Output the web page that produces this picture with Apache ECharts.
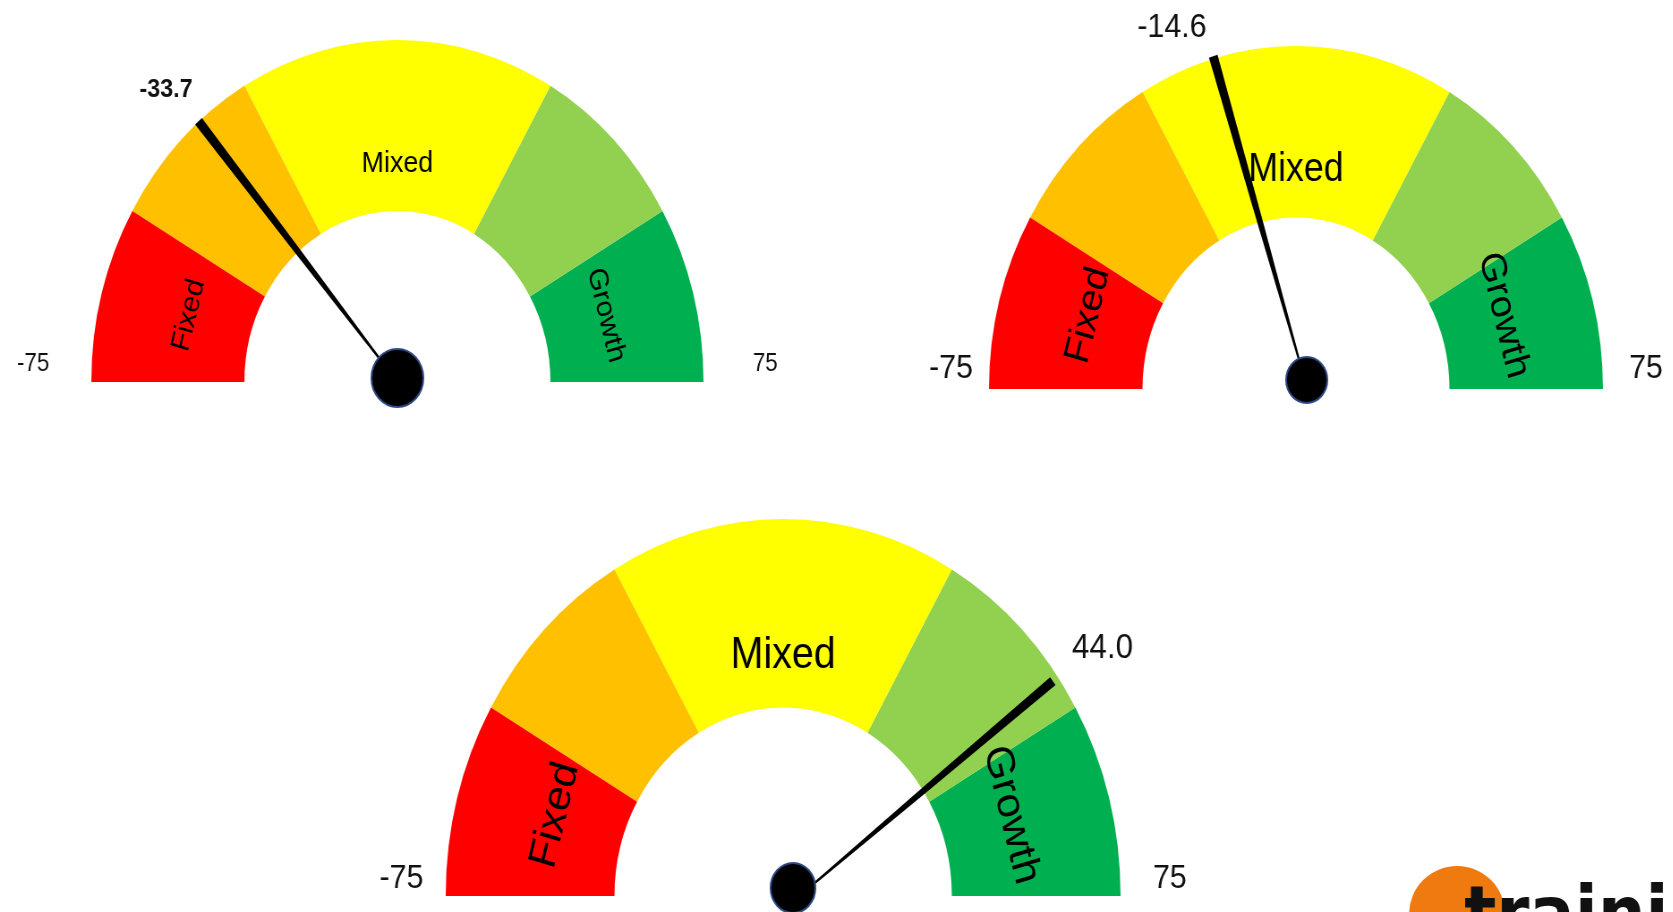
<!DOCTYPE html>
<html>
<head>
<meta charset="utf-8">
<title>Gauges</title>
<script src="https://cdn.jsdelivr.net/npm/echarts@6/dist/echarts.min.js"></script>
<style>
  html, body { margin: 0; padding: 0; background: #fff; overflow: hidden; width: 1673px; height: 912px; }
  /* dials are drawn round and then squeezed horizontally to the wide-oval look */
  #chart { width: 1869px; height: 912px; transform: scaleX(0.895); transform-origin: 0 0; }
</style>
</head>
<body>
<div id="chart"></div>
<script>
// Scale of every dial
const scaleMin = -75;
const scaleMax = 75;
const tickLabels = ['-75', '75'];

// Colour bands: edges, colours and names
const bandEdges = [-75, -50, -25, 25, 50, 75];
const bandColors = ['#FF0000', '#FFC000', '#FFFF00', '#92D050', '#00B050'];
const bandNames = ['Fixed', '', 'Mixed', '', 'Growth'];

// Reading of each dial
const gaugeValues = [-33.7, -14.6, 44.0];

const FONT = '"Liberation Sans", Arial, Helvetica, sans-serif';

// Layout of each dial
const dials = [
  { cx: 444, cy: 382, r: 342, hub: 58, hubOff: [0, -4], needleLen: 0.99, tickFont: 25, tickDist: -83, tickLift: 18,
    valueFont: 26, valueWeight: 'bold', valueNudge: [5, 0], bandFont: 30, bandPad: 1 },
  { cx: 1448, cy: 389, r: 343, hub: 46, hubOff: [12, -9], needleLen: 0.98, tickFont: 34, tickDist: -67, tickLift: 20,
    valueFont: 34, valueWeight: 'normal', valueNudge: [-4, 5], bandFont: 40, bandPad: 2 },
  { cx: 875, cy: 896, r: 377, hub: 50, hubOff: [11, -8], needleLen: 0.96, tickFont: 34, tickDist: -74, tickLift: 17,
    valueFont: 35, valueWeight: 'normal', valueNudge: [6, 9], bandFont: 44, bandPad: 2 }
];

const span = scaleMax - scaleMin;
const colorStops = bandColors.map((c, i) => [(bandEdges[i + 1] - scaleMin) / span, c]);

const measureCtx = document.createElement('canvas').getContext('2d');
function textWidth(text, size, weight) {
  measureCtx.font = weight + ' ' + size + 'px ' + FONT;
  return measureCtx.measureText(text).width;
}

// Value label sits just beyond the needle tip, on the outer side
function valueLabelOffset(v, d) {
  const theta = Math.PI * (1 - (v - scaleMin) / span);
  const c = Math.cos(theta), s = Math.sin(theta);
  const len = d.r * d.needleLen;
  const tipX = d.hubOff[0] + c * len;
  const tipY = d.hubOff[1] - s * len;
  const w = textWidth(v.toFixed(1), d.valueFont, d.valueWeight);
  const sgn = c < 0 ? -1 : 1;
  return [tipX + c * 22 + sgn * w / 2 + d.valueNudge[0],
          tipY - s * 22 - 4 - 0.36 * d.valueFont + d.valueNudge[1]];
}

// Band names sit a little nearer the hub than the middle of their band
const bandLabelShift = { Mixed: 0.12, Fixed: 0.05, Growth: 0.05 };

function bandFormatter(name, d) {
  const pad = '\u00a0'.repeat(d.bandPad);
  if (name === 'Fixed') return '\u00a0\n' + pad + '{b}';
  if (name === 'Growth') return '\u00a0\n{b}' + pad;
  return '\u00a0\n{b}';
}

const series = [];
dials.forEach((d, k) => {
  const v = gaugeValues[k];
  series.push({
    type: 'gauge',
    center: [d.cx, d.cy],
    radius: d.r,
    startAngle: 180,
    endAngle: 0,
    min: scaleMin,
    max: scaleMax,
    splitNumber: 1,
    animation: false,
    silent: true,
    axisLine: { roundCap: false, lineStyle: { width: d.r * 0.5, color: colorStops } },
    axisTick: { show: false },
    splitLine: { show: false, length: 0, distance: 0 },
    axisLabel: {
      show: true,
      distance: d.tickDist,
      color: '#111',
      fontFamily: FONT,
      fontSize: d.tickFont,
      lineHeight: d.tickLift * 2,
      // an empty second line lifts the number above the base of the arc
      formatter: val => (val === scaleMin ? tickLabels[0] : tickLabels[1]) + '\n\u00a0'
    },
    pointer: {
      show: true,
      icon: 'path://M1,0 L9,0 L7.6,50 L5.7,100 L4.3,100 L2.4,50 Z',
      length: (d.needleLen * 100) + '%',
      width: 10,
      offsetCenter: d.hubOff,
      itemStyle: { color: '#000' }
    },
    anchor: {
      show: true,
      showAbove: true,
      size: d.hub,
      offsetCenter: d.hubOff,
      itemStyle: { color: '#000', borderColor: '#2E4A86', borderWidth: 2 }
    },
    title: { show: false },
    detail: {
      show: true,
      valueAnimation: false,
      offsetCenter: valueLabelOffset(v, d),
      fontFamily: FONT,
      fontSize: d.valueFont,
      fontWeight: d.valueWeight,
      color: '#111',
      formatter: val => val.toFixed(1)
    },
    data: [{ value: v }]
  });

  // Band names, laid along the arc of each band
  const pieData = bandNames.map((name, i) => ({
    value: bandEdges[i + 1] - bandEdges[i],
    name: name,
    label: name
      ? { show: true, formatter: bandFormatter(name, d), lineHeight: 2 * d.r * bandLabelShift[name] }
      : { show: false }
  }));
  pieData.push({ value: span, name: '', label: { show: false }, itemStyle: { color: 'rgba(0,0,0,0)' } });
  series.push({
    type: 'pie',
    center: [d.cx, d.cy],
    radius: [d.r * 0.5, d.r],
    startAngle: 180,
    clockwise: true,
    silent: true,
    animation: false,
    z: 5,
    itemStyle: { color: 'rgba(0,0,0,0)' },
    label: {
      show: true,
      position: 'inside',
      rotate: 'tangential',
      color: '#000',
      fontFamily: FONT,
      fontSize: d.bandFont
    },
    labelLine: { show: false },
    emphasis: { disabled: true },
    data: pieData
  });
});

const chart = echarts.init(document.getElementById('chart'), null, { renderer: 'canvas' });
chart.setOption({
  backgroundColor: '#fff',
  animation: false,
  series: series,
  graphic: [
    {
      type: 'circle',
      x: 1628, y: 914,
      scaleX: 1 / 0.895,
      shape: { cx: 0, cy: 0, r: 48 },
      style: { fill: '#EF7B10' },
      z: 10
    },
    {
      type: 'text',
      x: 1636, y: 882,
      style: { text: 'training', font: 'bold 75px "DejaVu Sans", sans-serif', fill: '#111', verticalAlign: 'top' },
      z: 11
    }
  ]
});
</script>
</body>
</html>
